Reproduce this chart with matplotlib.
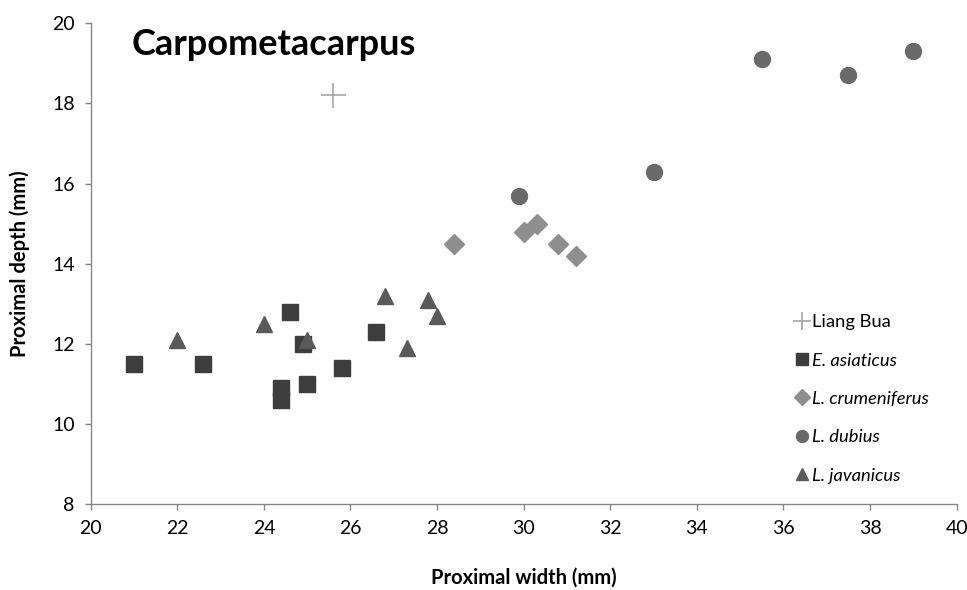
import matplotlib
matplotlib.use("Agg")
import matplotlib.pyplot as plt

plt.rcParams['font.family'] = ['Lato', 'DejaVu Sans']

# values
liang_x = [25.6]
liang_y = [18.2]

asia_x = [21.0, 22.6, 24.4, 24.4, 24.6, 24.9, 25.0, 25.8, 26.6]
asia_y = [11.5, 11.5, 10.9, 10.6, 12.8, 12.0, 11.0, 11.4, 12.3]

crum_x = [28.4, 30.0, 30.3, 30.8, 31.2]
crum_y = [14.5, 14.8, 15.0, 14.5, 14.2]

dub_x = [29.9, 33.0, 35.5, 37.5, 39.0]
dub_y = [15.7, 16.3, 19.1, 18.7, 19.3]

jav_x = [22.0, 24.0, 25.0, 26.8, 27.8, 28.0, 27.3]
jav_y = [12.1, 12.5, 12.1, 13.2, 13.1, 12.7, 11.9]

fig = plt.figure(figsize=(9.67, 5.9), dpi=100)
ax = fig.add_axes([0.0938, 0.1453, 0.8955, 0.8152])

ax.plot(jav_x, jav_y, ls='none', marker='^', ms=12, color='#5a5a5a',
        mec='#5a5a5a', label='L. javanicus', zorder=3)
ax.plot(asia_x, asia_y, ls='none', marker='s', ms=11.5, color='#3d3d3d',
        mec='#3d3d3d', label='E. asiaticus', zorder=2)
ax.plot(crum_x, crum_y, ls='none', marker='D', ms=10.3, color='#8e8e8e',
        mec='#8e8e8e', label='L. crumeniferus', zorder=2)
ax.plot(dub_x, dub_y, ls='none', marker='o', ms=11.5, color='#6a6a6a',
        mec='#6a6a6a', label='L. dubius', zorder=2)
ax.plot(liang_x, liang_y, ls='none', marker='+', ms=18, mew=1.2,
        color='#a6a6a6', label='Liang Bua', zorder=2)

ax.set_xlim(20, 40)
ax.set_ylim(8, 20)
ax.set_xticks(range(20, 41, 2))
ax.set_yticks(range(8, 21, 2))

for s in ['top', 'right']:
    ax.spines[s].set_visible(False)
for s in ['left', 'bottom']:
    ax.spines[s].set_color('#868686')
    ax.spines[s].set_linewidth(1.0)
ax.tick_params(direction='out', length=4.5, width=1.0, color='#868686',
               labelsize=14, labelcolor='black', pad=7)

ax.set_xlabel('Proximal width (mm)', fontsize=14.5, fontweight='bold', labelpad=22)
ax.set_ylabel('Proximal depth (mm)', fontsize=14.5, fontweight='bold', labelpad=16)

ax.text(0.047, 0.99, 'Carpometacarpus', transform=ax.transAxes,
        fontsize=26, fontweight='bold', va='top', ha='left')

handles, labels = ax.get_legend_handles_labels()
order = [4, 1, 2, 3, 0]
leg = fig.legend([handles[i] for i in order], [labels[i] for i in order],
                 loc='upper left', bbox_to_anchor=(785 / 967, 1 - 305 / 590),
                 frameon=False, fontsize=13.2, handlelength=0.8,
                 handletextpad=0.2, labelspacing=1.22, markerscale=0.75,
                 borderpad=0)
for t in leg.get_texts()[1:]:
    t.set_fontstyle('italic')

fig.savefig('out.png', dpi=100)
